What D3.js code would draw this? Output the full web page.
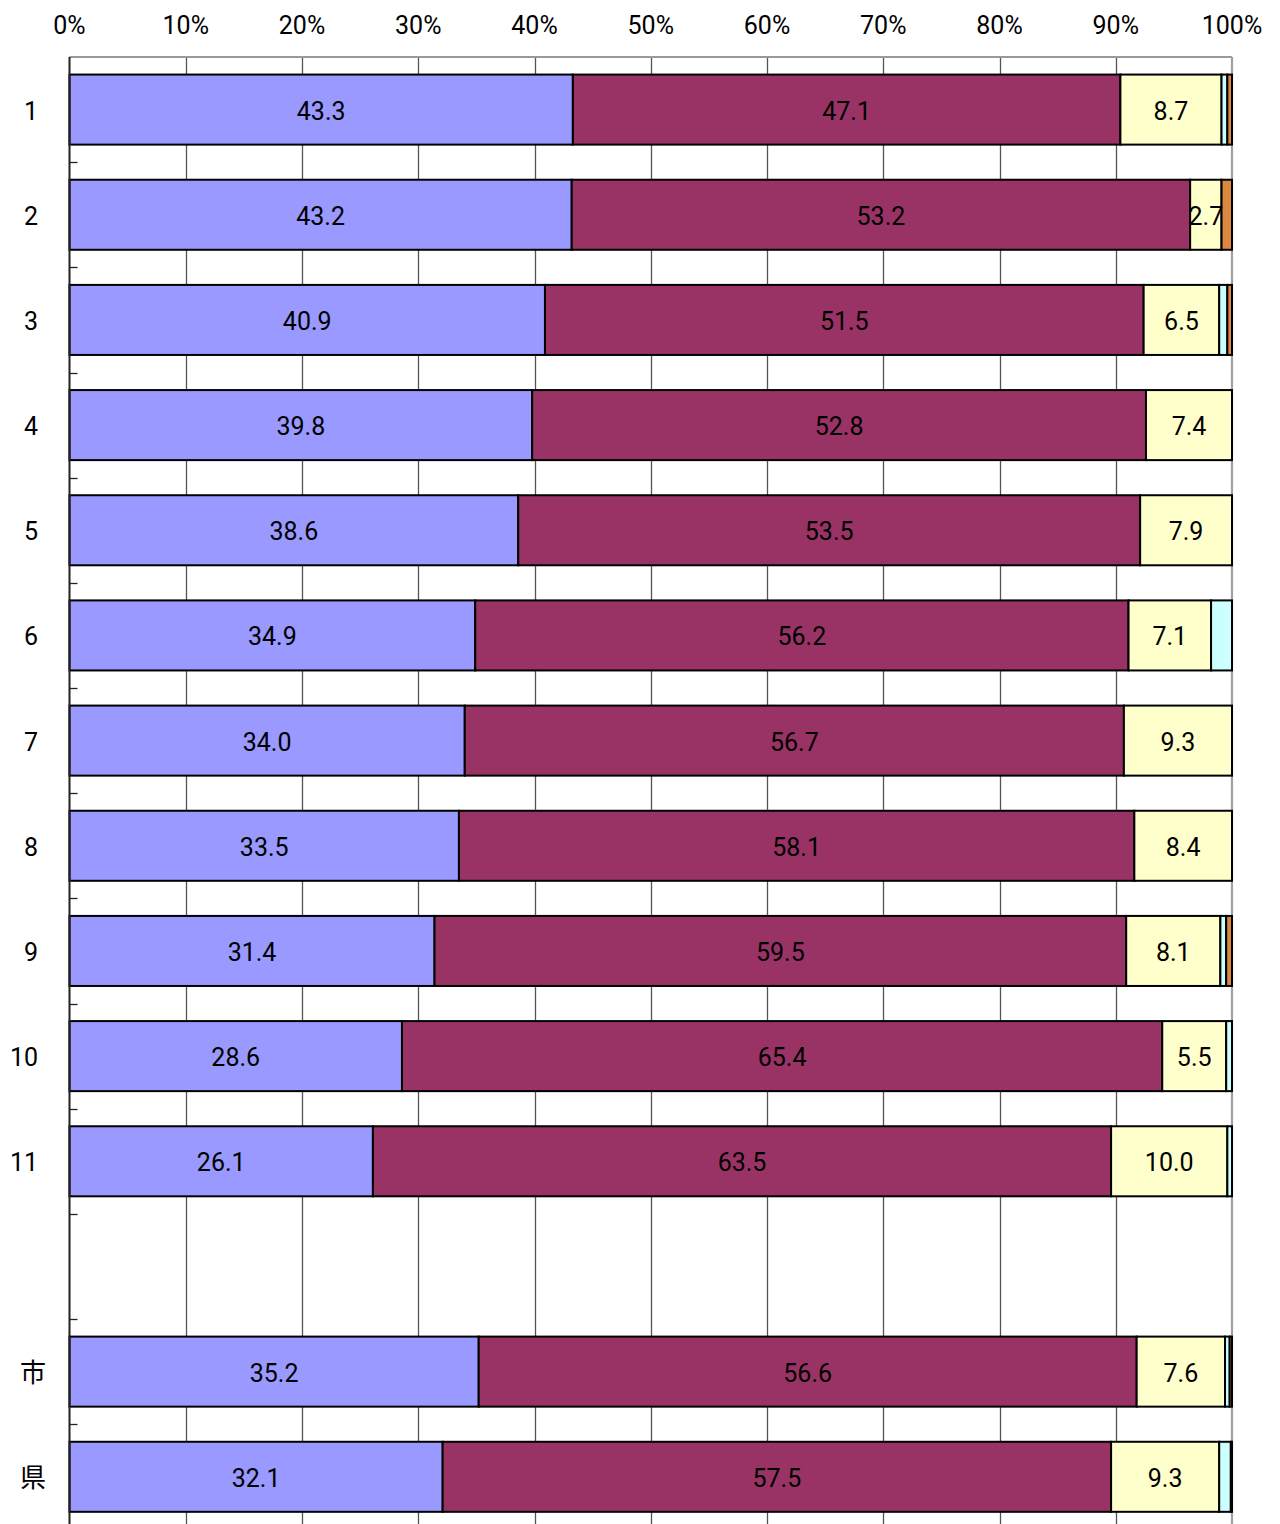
<!DOCTYPE html>
<html><head><meta charset="utf-8">
<script src="https://cdn.jsdelivr.net/npm/d3@7/dist/d3.min.js"></script>
<style>
body{margin:0;background:#fff;}
text{font-family:Roboto,"Noto Sans CJK JP",sans-serif;fill:#000;}
</style></head>
<body><svg id="chart" width="1280" height="1524"></svg>
<script>
const categories = ["1","2","3","4","5","6","7","8","9","10","11","","市","県"];
const seriesA = [43.3,43.2,40.9,39.8,38.6,34.9,34.0,33.5,31.4,28.6,26.1,null,35.2,32.1];
const seriesB = [47.1,53.2,51.5,52.8,53.5,56.2,56.7,58.1,59.5,65.4,63.5,null,56.6,57.5];
const seriesC = [8.7,2.7,6.5,7.4,7.9,7.1,9.3,8.4,8.1,5.5,10.0,null,7.6,9.3];
const seriesD = [0.5,0,0.7,0,0,1.8,0,0,0.5,0.5,0.4,null,0.4,1.0];
const seriesE = [0.4,0.9,0.4,0,0,0,0,0,0.5,0,0,null,0.2,0.1];
const xTicks = [0,10,20,30,40,50,60,70,80,90,100];

const colors = ["#9999FF","#993366","#FFFFCC","#CCFFFF","#DD8840"];
const series = [seriesA,seriesB,seriesC,seriesD,seriesE];
const labelled = [true,true,true,false,false];

(function(){
const svg = d3.select("#chart");
const pLeft = 69.5, pRight = 1232, pTop = 57, step = 105.17;
const keys = categories.map((c,i)=>"k"+i);
const x = d3.scaleLinear().domain([0,100]).range([pLeft,pRight]);
const y = d3.scaleBand().domain(keys).range([pTop, pTop+step*categories.length]).paddingInner(0.334).paddingOuter(0.167);

// gridlines
svg.append("g").selectAll("line").data(xTicks.filter(t=>t>0&&t<100)).join("line")
  .attr("x1",d=>Math.round(x(d))+0.5).attr("x2",d=>Math.round(x(d))+0.5)
  .attr("y1",pTop).attr("y2",1524).attr("stroke","#555").attr("stroke-width",1.3);
// top border
svg.append("line").attr("x1",pLeft).attr("x2",pRight).attr("y1",pTop).attr("y2",pTop)
  .attr("stroke","#999").attr("stroke-width",2);
// right border
svg.append("line").attr("x1",pRight).attr("x2",pRight).attr("y1",pTop).attr("y2",1524)
  .attr("stroke","#A0A0A0").attr("stroke-width",2.2);

// top axis labels
svg.append("g").selectAll("text").data(xTicks).join("text")
  .attr("x",d=>x(d)).attr("y",34).attr("text-anchor","middle")
  .attr("font-size",25).text(d=>d+"%");

// stacked data
const rows = categories.map((c,i)=>{
  let acc=0; const segs=[];
  series.forEach((s,j)=>{
    const v=s[i]; if(v==null) return;
    segs.push({j,v,x0:acc,x1:acc+v,key:keys[i]}); acc+=v;
  });
  return segs;
}).flat();

const g = svg.append("g");
g.selectAll("rect").data(rows.filter(d=>d.v>0)).join("rect")
  .attr("x",d=>x(d.x0)).attr("width",d=>x(d.x1)-x(d.x0))
  .attr("y",d=>y(d.key)).attr("height",y.bandwidth())
  .attr("fill",d=>colors[d.j]).attr("stroke","#000").attr("stroke-width",2);

g.selectAll("text").data(rows.filter(d=>labelled[d.j]&&d.v>0)).join("text")
  .attr("x",d=>x((d.x0+d.x1)/2)).attr("y",d=>y(d.key)+y.bandwidth()/2+1)
  .attr("dy","0.36em").attr("text-anchor","middle").attr("font-size",25)
  .text(d=>d.v.toFixed(1));

// left axis line and ticks
svg.append("line").attr("x1",pLeft).attr("x2",pLeft).attr("y1",pTop).attr("y2",1524)
  .attr("stroke","#222").attr("stroke-width",2);
svg.append("g").selectAll("line").data(d3.range(1,categories.length)).join("line")
  .attr("x1",pLeft).attr("x2",pLeft+8)
  .attr("y1",d=>Math.round(pTop+d*step)+0.5).attr("y2",d=>Math.round(pTop+d*step)+0.5)
  .attr("stroke","#222").attr("stroke-width",1.3);

// category labels
svg.append("g").selectAll("text").data(categories.map((c,i)=>({c,k:keys[i]}))).join("text")
  .attr("x",d=>/^[0-9]+$/.test(d.c)?38:46).attr("y",d=>y(d.k)+y.bandwidth()/2+1)
  .attr("dy","0.36em").attr("text-anchor","end")
  .attr("font-size",d=>/^[0-9]+$/.test(d.c)?25:26)
  .text(d=>d.c);
})();
</script></body></html>
